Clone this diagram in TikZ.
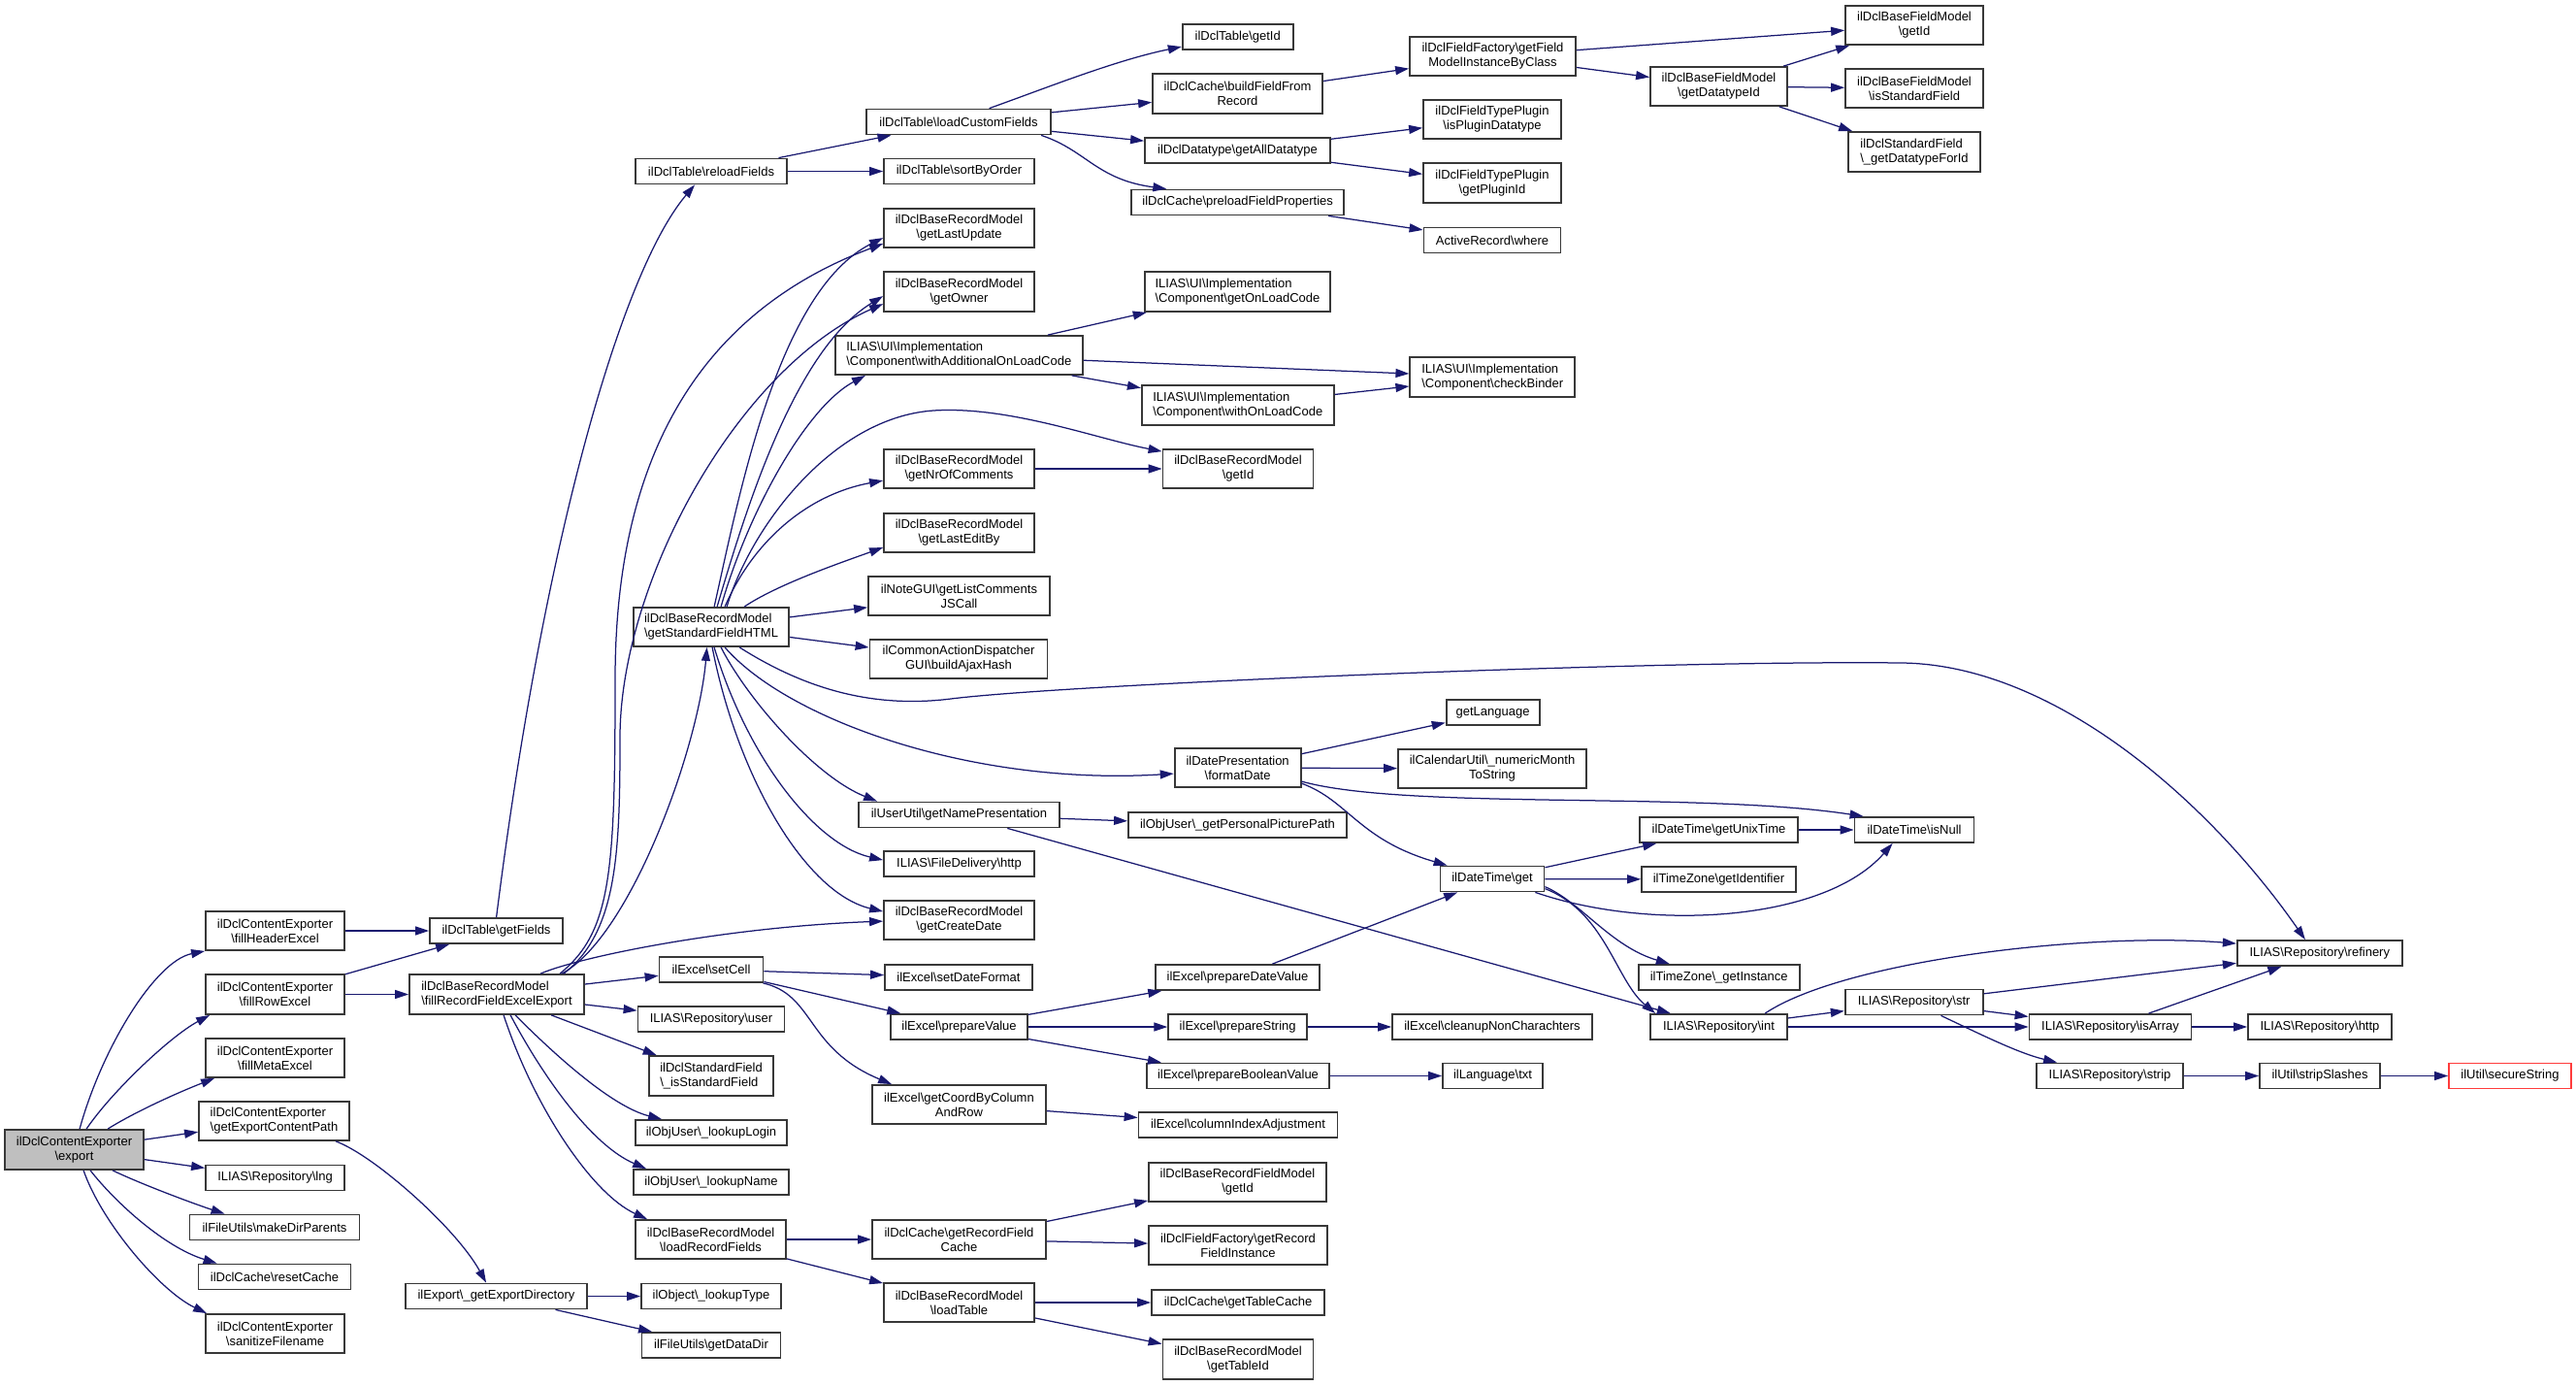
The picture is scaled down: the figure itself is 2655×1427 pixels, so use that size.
\documentclass[tikz,border=0pt]{standalone}
\usepackage{fontspec}
\setmainfont{Liberation Sans}
\usetikzlibrary{arrows.meta}
\newcommand{\Bsl}{\textbackslash}
\definecolor{edgec}{HTML}{191970}
\definecolor{boxc}{HTML}{383838}
\definecolor{redc}{HTML}{FF3C3C}
\definecolor{grayfill}{HTML}{BFBFBF}
\tikzset{
  box/.style={draw=boxc, line width=1.8pt, fill=white, rectangle, inner sep=0pt, align=center, font=\fontsize{13}{15}\selectfont},
  lbox/.style={box, align=left},
  edge/.style={draw=edgec, line width=1.25pt, -{Triangle[length=14pt,width=9pt]}}
}
\newcommand{\mknode}[6]{\node[#1, minimum width=#2pt, minimum height=#3pt] (#4) at (#5) {#6};}
\begin{document}
\begin{tikzpicture}[x=1pt,y=-1pt]
\useasboundingbox (0,0) rectangle (2655,1427);
% ---------- nodes ----------
\mknode{box,fill=grayfill}{143}{41}{export}{76.5,1184.5}{ilDclContentExporter\\\Bsl export}
\mknode{box}{143}{40}{fillHeaderExcel}{283.5,959}{ilDclContentExporter\\\Bsl fillHeaderExcel}
\mknode{box}{137}{26}{getFields}{511.5,959}{ilDclTable\Bsl getFields}
\mknode{box}{143}{41}{fillRowExcel}{283.5,1024.5}{ilDclContentExporter\\\Bsl fillRowExcel}
\mknode{lbox}{180}{41}{fillRecord}{512,1024.5}{ilDclBaseRecordModel\\\Bsl fillRecordFieldExcelExport}
\mknode{box}{143}{40}{fillMetaExcel}{283.5,1090}{ilDclContentExporter\\\Bsl fillMetaExcel}
\mknode{lbox}{155}{40}{getExportContentPath}{282.5,1155}{ilDclContentExporter\\\Bsl getExportContentPath}
\mknode{box}{143}{26}{lng}{283.5,1213.5}{ILIAS\Bsl Repository\Bsl lng}
\mknode{box}{175}{26}{makeDirParents}{283,1264.5}{ilFileUtils\Bsl makeDirParents}
\mknode{box}{157}{26}{resetCache}{283,1315.5}{ilDclCache\Bsl resetCache}
\mknode{box}{143}{40}{sanitizeFilename}{283.5,1374}{ilDclContentExporter\\\Bsl sanitizeFilename}
\mknode{box}{187}{26}{exportDir}{511.5,1335.5}{ilExport\Bsl\_getExportDirectory}
\mknode{box}{155}{40}{createDate}{988.5,948}{ilDclBaseRecordModel\\\Bsl getCreateDate}
\mknode{box}{107}{26}{setCell}{733,999}{ilExcel\Bsl setCell}
\mknode{box}{152}{26}{setDateFormat}{988,1007}{ilExcel\Bsl setDateFormat}
\mknode{box}{169}{26}{prepareDateValue}{1275.5,1007}{ilExcel\Bsl prepareDateValue}
\mknode{box}{151}{26}{repoUser}{733,1050}{ILIAS\Bsl Repository\Bsl user}
\mknode{box}{141}{26}{prepareValue}{988.5,1058}{ilExcel\Bsl prepareValue}
\mknode{box}{143}{26}{prepareString}{1275.7,1058}{ilExcel\Bsl prepareString}
\mknode{lbox}{128}{41}{isStdField}{733,1108.5}{ilDclStandardField\\\Bsl\_isStandardField}
\mknode{box}{188}{26}{prepareBoolean}{1276,1108.5}{ilExcel\Bsl prepareBooleanValue}
\mknode{box}{179}{40}{getCoord}{988.5,1138}{ilExcel\Bsl getCoordByColumn\\AndRow}
\mknode{box}{205}{26}{columnIndex}{1276,1159}{ilExcel\Bsl columnIndexAdjustment}
\mknode{box}{156}{26}{lookupLogin}{733,1167}{ilObjUser\Bsl\_lookupLogin}
\mknode{box}{160}{26}{lookupName}{733,1218}{ilObjUser\Bsl\_lookupName}
\mknode{box}{183}{40}{recFieldGetId}{1275.5,1218}{ilDclBaseRecordFieldModel\\\Bsl getId}
\mknode{box}{155}{40}{loadRecordFields}{732.5,1277}{ilDclBaseRecordModel\\\Bsl loadRecordFields}
\mknode{box}{179}{40}{getRecordFieldCache}{988.5,1277}{ilDclCache\Bsl getRecordField\\Cache}
\mknode{box}{184}{40}{getRecordFieldInstance}{1276,1283}{ilDclFieldFactory\Bsl getRecord\\FieldInstance}
\mknode{box}{144}{26}{lookupType}{733,1335.5}{ilObject\Bsl\_lookupType}
\mknode{box}{155}{40}{loadTable}{988.5,1342}{ilDclBaseRecordModel\\\Bsl loadTable}
\mknode{box}{178}{26}{getTableCache}{1276,1342}{ilDclCache\Bsl getTableCache}
\mknode{box}{143}{26}{getDataDir}{733,1386}{ilFileUtils\Bsl getDataDir}
\mknode{box}{155}{41}{getTableId}{1276,1400.5}{ilDclBaseRecordModel\\\Bsl getTableId}
\mknode{box}{206}{26}{cleanup}{1538,1058}{ilExcel\Bsl cleanupNonCharachters}
\mknode{box}{103}{26}{langTxt}{1538.5,1108.5}{ilLanguage\Bsl txt}
\mknode{box}{166}{26}{tzGetInstance}{1771.7,1007}{ilTimeZone\Bsl\_getInstance}
\mknode{box}{141}{26}{repoInt}{1771.5,1058}{ILIAS\Bsl Repository\Bsl int}
\mknode{box}{142}{26}{repoStr}{1972.7,1032.5}{ILIAS\Bsl Repository\Bsl str}
\mknode{box}{170}{26}{refinery}{2390.8,982}{ILIAS\Bsl Repository\Bsl refinery}
\mknode{box}{167}{26}{isArray}{2175,1058}{ILIAS\Bsl Repository\Bsl isArray}
\mknode{box}{148}{26}{repoHttp}{2391,1058}{ILIAS\Bsl Repository\Bsl http}
\mknode{box}{151}{26}{repoStrip}{2174.5,1108.5}{ILIAS\Bsl Repository\Bsl strip}
\mknode{box}{124}{26}{stripSlashes}{2391,1108.5}{ilUtil\Bsl stripSlashes}
\mknode{box,draw=redc}{126}{26}{secureString}{2587,1108.5}{ilUtil\Bsl secureString}
\mknode{box}{155}{40}{getNrOfComments}{988.5,483}{ilDclBaseRecordModel\\\Bsl getNrOfComments}
\mknode{box}{155}{40}{recGetId}{1276,483}{ilDclBaseRecordModel\\\Bsl getId}
\mknode{box}{155}{40}{getLastEditBy}{988.5,549}{ilDclBaseRecordModel\\\Bsl getLastEditBy}
\mknode{box}{187}{40}{listComments}{988.5,614}{ilNoteGUI\Bsl getListComments\\JSCall}
\mknode{lbox}{160}{40}{stdHTML}{733,646}{ilDclBaseRecordModel\\\Bsl getStandardFieldHTML}
\mknode{box}{183}{40}{ajaxHash}{988,679}{ilCommonActionDispatcher\\GUI\Bsl buildAjaxHash}
\mknode{box}{130}{40}{formatDate}{1275.6,791}{ilDatePresentation\\\Bsl formatDate}
\mknode{box}{207}{26}{namePresentation}{988.5,839.5}{ilUserUtil\Bsl getNamePresentation}
\mknode{box}{225}{26}{pictPath}{1275.5,850}{ilObjUser\Bsl\_getPersonalPicturePath}
\mknode{box}{155}{26}{fileDelHttp}{988.5,890}{ILIAS\Bsl FileDelivery\Bsl http}
\mknode{box}{96}{26}{getLanguage}{1538.6,734}{getLanguage}
\mknode{box}{194}{40}{numericMonth}{1538,792}{ilCalendarUtil\Bsl\_numericMonth\\ToString}
\mknode{box}{163}{26}{getUnixTime}{1771.5,855}{ilDateTime\Bsl getUnixTime}
\mknode{box}{123}{26}{isNull}{1973,855}{ilDateTime\Bsl isNull}
\mknode{box}{107}{26}{dtGet}{1538,905.5}{ilDateTime\Bsl get}
\mknode{box}{159}{26}{tzIdentifier}{1771.5,906}{ilTimeZone\Bsl getIdentifier}
\mknode{box}{114}{26}{tableGetId}{1275.7,38}{ilDclTable\Bsl getId}
\mknode{box}{175}{41}{buildField}{1275.5,96.5}{ilDclCache\Bsl buildFieldFrom\\Record}
\mknode{box}{190}{26}{loadCustomFields}{988,125.5}{ilDclTable\Bsl loadCustomFields}
\mknode{box}{191}{26}{getAllDatatype}{1275.5,155}{ilDclDatatype\Bsl getAllDatatype}
\mknode{box}{156}{26}{reloadFields}{733,176.5}{ilDclTable\Bsl reloadFields}
\mknode{box}{155}{26}{sortByOrder}{988.5,176.5}{ilDclTable\Bsl sortByOrder}
\mknode{box}{219}{26}{preloadField}{1275.7,208.5}{ilDclCache\Bsl preloadFieldProperties}
\mknode{box}{155}{40}{getLastUpdate}{988.5,235}{ilDclBaseRecordModel\\\Bsl getLastUpdate}
\mknode{box}{155}{41}{getOwner}{988.5,300.5}{ilDclBaseRecordModel\\\Bsl getOwner}
\mknode{lbox}{191}{41}{getOnLoadCode}{1275.5,300.5}{ILIAS\Bsl UI\Bsl Implementation\\\Bsl Component\Bsl getOnLoadCode}
\mknode{lbox}{255}{40}{withAddOnLoad}{988.3,366}{ILIAS\Bsl UI\Bsl Implementation\\\Bsl Component\Bsl withAdditionalOnLoadCode}
\mknode{lbox}{198}{41}{withOnLoad}{1275.8,417.5}{ILIAS\Bsl UI\Bsl Implementation\\\Bsl Component\Bsl withOnLoadCode}
\mknode{lbox}{170}{41}{checkBinder}{1538.3,388.5}{ILIAS\Bsl UI\Bsl Implementation\\\Bsl Component\Bsl checkBinder}
\mknode{box}{171}{40}{fieldModelInst}{1538.5,58}{ilDclFieldFactory\Bsl getField\\ModelInstanceByClass}
\mknode{box}{141}{40}{getDatatypeId}{1771.5,89}{ilDclBaseFieldModel\\\Bsl getDatatypeId}
\mknode{box}{142}{40}{fmGetId}{1973,26}{ilDclBaseFieldModel\\\Bsl getId}
\mknode{box}{142}{40}{fmIsStandard}{1973,91}{ilDclBaseFieldModel\\\Bsl isStandardField}
\mknode{lbox}{136}{41}{getDatatypeForId}{1973,156.5}{ilDclStandardField\\\Bsl\_getDatatypeForId}
\mknode{box}{142}{40}{isPluginDatatype}{1538,123}{ilDclFieldTypePlugin\\\Bsl isPluginDatatype}
\mknode{box}{142}{41}{getPluginId}{1538,188.5}{ilDclFieldTypePlugin\\\Bsl getPluginId}
\mknode{box}{141}{26}{activeWhere}{1538,247.5}{ActiveRecord\Bsl where}
% ---------- edges from export ----------
\draw[edge] ([xshift=78pt]export.north west) .. controls (105,1080) and (160,990) .. (fillHeaderExcel.south west);
\draw[edge] ([xshift=85pt]export.north west) .. controls (115,1125) and (175,1068) .. ([xshift=5pt]fillRowExcel.south west);
\draw[edge] ([xshift=107pt]export.north west) .. controls (140,1145) and (185,1125) .. ([xshift=10pt]fillMetaExcel.south west);
\draw[edge] (export) -- (getExportContentPath);
\draw[edge] (export) -- (lng);
\draw[edge] ([xshift=112pt]export.south west) .. controls (150,1222) and (205,1242) .. ([xshift=37pt]makeDirParents.north west);
\draw[edge] ([xshift=89pt]export.south west) .. controls (120,1240) and (170,1285) .. ([xshift=20pt]resetCache.north west);
\draw[edge] ([xshift=82pt]export.south west) .. controls (105,1260) and (165,1330) .. ([xshift=2pt]sanitizeFilename.north west);
% ---------- second column ----------
\draw[edge] (fillHeaderExcel) -- (getFields);
\draw[edge] (fillRowExcel) -- (getFields);
\draw[edge] (fillRowExcel) -- (fillRecord);
\draw[edge] ([xshift=142pt]getExportContentPath.south west) .. controls (385,1190) and (470,1265) .. ([xshift=84pt]exportDir.north west);
\draw[edge] ([xshift=69.5pt]getFields.north west) .. controls (560,560) and (640,280) .. ([xshift=62pt]reloadFields.south west);
\draw[edge] (exportDir) -- (lookupType);
\draw[edge] (exportDir) -- (getDataDir);
% ---------- fillRecordFieldExcelExport ----------
\draw[edge] ([xshift=158pt]fillRecord.north west) .. controls (650,965) and (720,770) .. ([xshift=76.5pt]stdHTML.south west);
\draw[edge] ([xshift=156pt]fillRecord.north west) .. controls (630,960) and (634,900) .. (634,700) .. controls (634,500) and (700,330) .. ([yshift=-37pt]getLastUpdate.north west);
\draw[edge] ([xshift=160pt]fillRecord.north west) .. controls (636,960) and (639,880) .. (639,760) .. controls (639,600) and (760,380) .. ([yshift=-34pt]getOwner.north west);
\draw[edge] ([xshift=136pt]fillRecord.north west) .. controls (600,985) and (750,955) .. ([yshift=-22pt]createDate.north west);
\draw[edge] (fillRecord) -- (setCell);
\draw[edge] (fillRecord) -- (repoUser);
\draw[edge] (fillRecord) -- (isStdField);
\draw[edge] ([xshift=110pt]fillRecord.south west) .. controls (570,1085) and (630,1140) .. ([xshift=28pt]lookupLogin.north west);
\draw[edge] ([xshift=105pt]fillRecord.south west) .. controls (560,1110) and (610,1180) .. ([xshift=14pt]lookupName.north west);
\draw[edge] ([xshift=98pt]fillRecord.south west) .. controls (550,1140) and (610,1230) .. ([xshift=13pt]loadRecordFields.north west);
% ---------- getStandardFieldHTML ----------
\draw[edge] ([xshift=84pt]stdHTML.north west) .. controls (760,520) and (800,300) .. ([yshift=-31pt]getLastUpdate.north west);
\draw[edge] ([xshift=87pt]stdHTML.north west) .. controls (770,520) and (820,360) .. ([yshift=-26pt]getOwner.north west);
\draw[edge] ([xshift=91pt]stdHTML.north west) .. controls (770,530) and (830,420) .. ([xshift=32pt]withAddOnLoad.south west);
\draw[edge] ([xshift=97pt]stdHTML.north west) .. controls (775,540) and (860,430) .. (962,423) .. controls (1040,418) and (1130,452) .. ([yshift=-3pt]recGetId.north west);
\draw[edge] ([xshift=95pt]stdHTML.north west) .. controls (775,560) and (830,510) .. ([yshift=-33pt]getNrOfComments.north west);
\draw[edge] ([xshift=115pt]stdHTML.north west) .. controls (800,603) and (860,582) .. ([yshift=-36pt]getLastEditBy.north west);
\draw[edge] (stdHTML) -- (listComments);
\draw[edge] (stdHTML) -- (ajaxHash);
\draw[edge] ([xshift=110pt]stdHTML.south west) .. controls (830,710) and (900,730) .. (980,720) .. controls (1100,705) and (1700,680) .. (1960,683) .. controls (2120,685) and (2280,830) .. ([xshift=71pt]refinery.north west);
\draw[edge] ([xshift=95pt]stdHTML.south west) .. controls (810,740) and (1000,810) .. ([yshift=-27pt]formatDate.north west);
\draw[edge] ([xshift=91pt]stdHTML.south west) .. controls (770,720) and (840,800) .. ([xshift=20pt]namePresentation.north west);
\draw[edge] ([xshift=84pt]stdHTML.south west) .. controls (770,780) and (840,870) .. ([yshift=-10pt]fileDelHttp.north west);
\draw[edge] ([xshift=82pt]stdHTML.south west) .. controls (760,800) and (830,920) .. ([yshift=-12pt]createDate.north west);
% ---------- reloadFields and field model ----------
\draw[edge] (reloadFields) -- (loadCustomFields);
\draw[edge] (reloadFields) -- (sortByOrder);
\draw[edge] ([xshift=127.5pt]loadCustomFields.north west) .. controls (1080,90) and (1150,62) .. ([yshift=-24pt]tableGetId.north west);
\draw[edge] (loadCustomFields) -- (buildField);
\draw[edge] (loadCustomFields) -- (getAllDatatype);
\draw[edge] ([xshift=181pt]loadCustomFields.south west) .. controls (1120,155) and (1130,185) .. ([xshift=37pt]preloadField.north west);
\draw[edge] (buildField) -- (fieldModelInst);
\draw[edge] (fieldModelInst) -- (fmGetId);
\draw[edge] (fieldModelInst) -- (getDatatypeId);
\draw[edge] (getDatatypeId) -- (fmGetId);
\draw[edge] (getDatatypeId) -- (fmIsStandard);
\draw[edge] (getDatatypeId) -- (getDatatypeForId);
\draw[edge] (getAllDatatype) -- (isPluginDatatype);
\draw[edge] (getAllDatatype) -- (getPluginId);
\draw[edge] (preloadField) -- (activeWhere);
% ---------- UI components ----------
\draw[edge] (withAddOnLoad) -- (getOnLoadCode);
\draw[edge] (withAddOnLoad) -- (checkBinder);
\draw[edge] (withAddOnLoad) -- (withOnLoad);
\draw[edge] (withOnLoad) -- (checkBinder);
\draw[edge] (getNrOfComments) -- (recGetId);
% ---------- dates ----------
\draw[edge] (formatDate) -- (getLanguage);
\draw[edge] (formatDate) -- (numericMonth);
\draw[edge] ([yshift=-35pt]formatDate.north east) .. controls (1450,835) and (1750,815) .. ([xshift=10pt]isNull.north west);
\draw[edge] ([yshift=-37pt]formatDate.north east) .. controls (1390,825) and (1400,865) .. ([xshift=8pt]dtGet.north west);
\draw[edge] (namePresentation) -- (pictPath);
\draw[edge] (namePresentation) -- (repoInt);
\draw[edge] (dtGet) -- (getUnixTime);
\draw[edge] (dtGet) -- (tzIdentifier);
\draw[edge] ([xshift=-10pt]dtGet.south east) .. controls (1700,960) and (1880,950) .. ([xshift=40pt]isNull.south west);
\draw[edge] ([yshift=-22pt]dtGet.north east) .. controls (1630,930) and (1660,975) .. ([xshift=33pt]tzGetInstance.north west);
\draw[edge] ([yshift=-24pt]dtGet.north east) .. controls (1655,940) and (1665,1010) .. ([xshift=6pt]repoInt.north west);
\draw[edge] (getUnixTime) -- (isNull);
% ---------- repository ----------
\draw[edge] ([xshift=119pt]repoInt.north west) .. controls (1900,990) and (2150,960) .. ([yshift=-4pt]refinery.north west);
\draw[edge] (repoInt) -- (repoStr);
\draw[edge] (repoInt) -- (isArray);
\draw[edge] (repoStr) -- (refinery);
\draw[edge] (repoStr) -- (isArray);
\draw[edge] ([xshift=99.7pt]repoStr.south west) .. controls (2040,1065) and (2080,1085) .. ([xshift=22pt]repoStrip.north west);
\draw[edge] (isArray) -- (refinery);
\draw[edge] (isArray) -- (repoHttp);
\draw[edge] (repoStrip) -- (stripSlashes);
\draw[edge] (stripSlashes) -- (secureString);
% ---------- Excel ----------
\draw[edge] (setCell) -- (setDateFormat);
\draw[edge] (setCell) -- (prepareValue);
\draw[edge] ([xshift=-1pt]setCell.south east) .. controls (840,1025) and (830,1080) .. ([xshift=21pt]getCoord.north west);
\draw[edge] (prepareValue) -- (prepareDateValue);
\draw[edge] (prepareValue) -- (prepareString);
\draw[edge] (prepareValue) -- (prepareBoolean);
\draw[edge] (getCoord) -- (columnIndex);
\draw[edge] (prepareDateValue) -- (dtGet);
\draw[edge] (prepareString) -- (cleanup);
\draw[edge] (prepareBoolean) -- (langTxt);
% ---------- records ----------
\draw[edge] (loadRecordFields) -- (getRecordFieldCache);
\draw[edge] (loadRecordFields) -- (loadTable);
\draw[edge] (getRecordFieldCache) -- (recFieldGetId);
\draw[edge] (getRecordFieldCache) -- (getRecordFieldInstance);
\draw[edge] (loadTable) -- (getTableCache);
\draw[edge] (loadTable) -- (getTableId);
\end{tikzpicture}
\end{document}
